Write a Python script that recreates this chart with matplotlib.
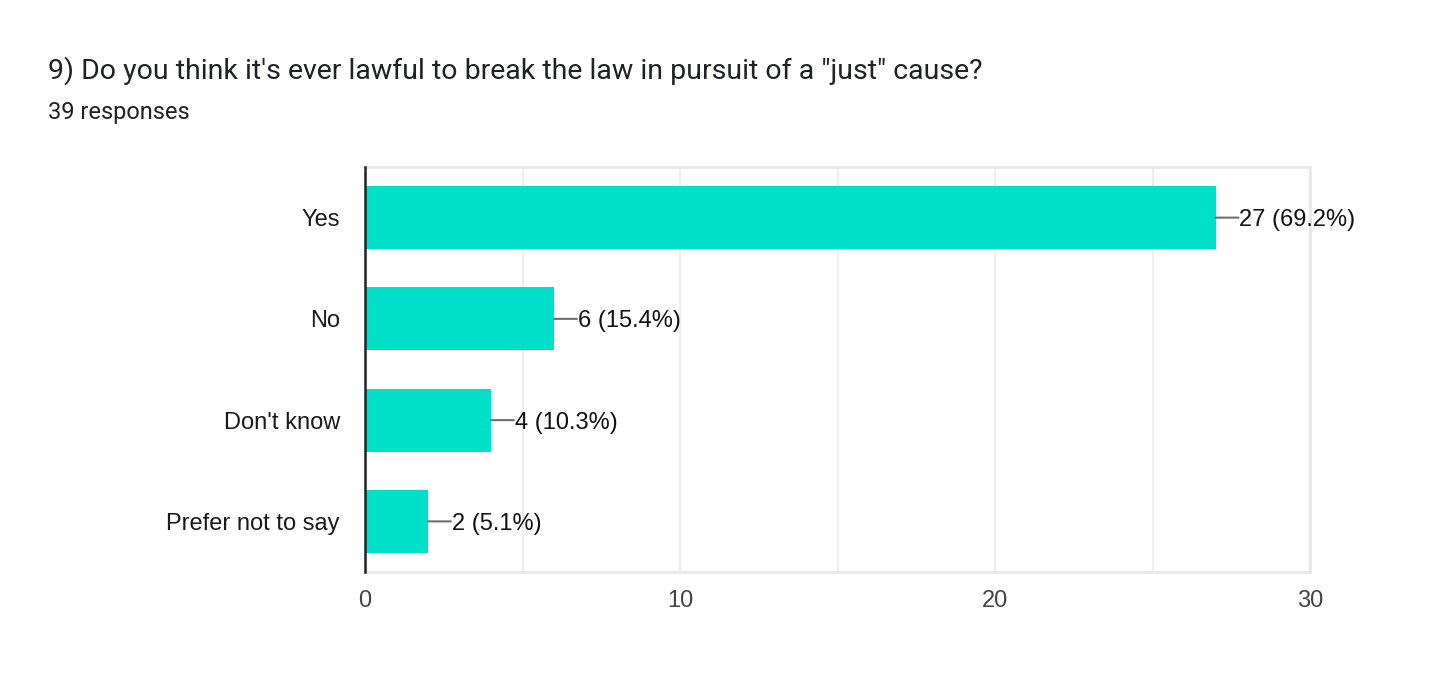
import matplotlib.pyplot as plt
from matplotlib.ticker import MultipleLocator

title = "9) Do you think it's ever lawful to break the law in pursuit of a \"just\" cause?"
subtitle = "39 responses"
answers = ["Yes", "No", "Don't know", "Prefer not to say"]
counts = [27, 6, 4, 2]
shares = [69.2, 15.4, 10.3, 5.1]
x_ticks = [0, 10, 20, 30]

bar_color = "#00dfca"
grid_color = "#eeeeee"
label_font = "Liberation Sans"

fig = plt.figure(figsize=(14.56, 6.92), dpi=100)
ax = fig.add_axes([365 / 1456, 1 - 572 / 692, 945 / 1456, 405 / 692])

ypos = list(range(len(answers)))
ax.barh(ypos, counts, height=0.62, color=bar_color, edgecolor="none", zorder=2)

for y, c, s in zip(ypos, counts, shares):
    # leader line from bar end to the value label
    ax.annotate(
        "",
        xy=(c, y),
        xytext=(16.5, 0),
        textcoords="offset points",
        arrowprops=dict(arrowstyle="-", color="#6f6f6f", lw=1.5, shrinkA=0, shrinkB=0),
    )
    ax.annotate(
        f"{c} ({s:.1f}%)",
        xy=(c, y),
        xytext=(17, 0),
        textcoords="offset points",
        va="center_baseline",
        ha="left",
        fontsize=17,
        family=label_font,
        color="#111111",
    )

ax.set_xlim(0, 30)
ax.set_ylim(len(answers) - 0.5, -0.5)
ax.set_yticks(ypos)
ax.set_yticklabels(answers, fontsize=17, family=label_font, color="#1a1a1a")
ax.set_xticks(x_ticks)
ax.set_xticklabels([str(t) for t in x_ticks], fontsize=17, family=label_font, color="#444444")
ax.xaxis.set_minor_locator(MultipleLocator(5))
ax.tick_params(axis="both", which="both", length=0)
ax.tick_params(axis="y", pad=18)
ax.tick_params(axis="x", pad=13)
ax.grid(axis="x", which="both", color=grid_color, linewidth=1.6, zorder=0)

for side in ("top", "right", "bottom"):
    ax.spines[side].set_color("#e6e6e6")
    ax.spines[side].set_linewidth(1.8)
ax.spines["left"].set_color("#222222")
ax.spines["left"].set_linewidth(1.8)
ax.spines["left"].set_zorder(3)

fig.text(48 / 1456, 1 - 71 / 692, title, fontsize=20.5, family="Roboto",
         color="#202124", va="center", ha="left")
fig.text(48 / 1456, 1 - 112 / 692, subtitle, fontsize=17, family="Roboto",
         color="#202124", va="center", ha="left")

fig.savefig("out.png", dpi=100)
